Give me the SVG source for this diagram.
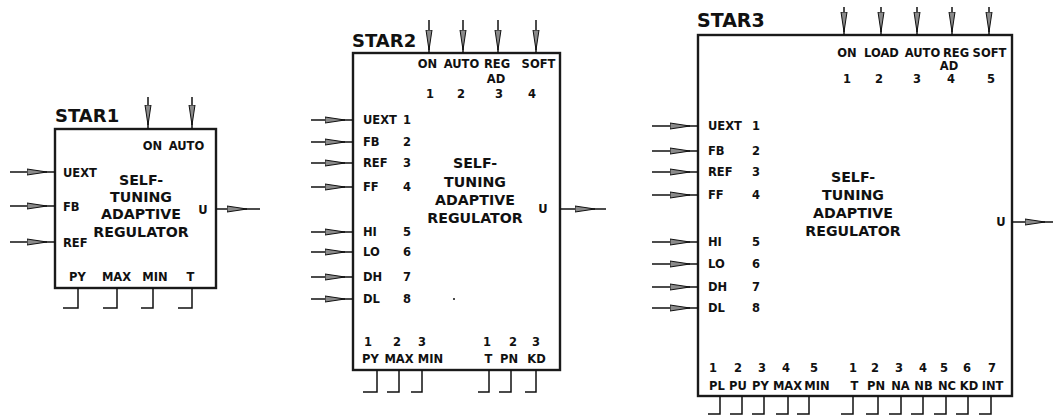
<svg xmlns="http://www.w3.org/2000/svg" width="1053" height="418" viewBox="0 0 1053 418">
<style>
text{font-family:"DejaVu Sans","Liberation Sans",sans-serif;font-weight:bold;fill:#111}
.t{font-size:18px}
.l{font-size:11.5px}
.c{font-size:14.2px;text-anchor:middle}
.m{text-anchor:middle}
.box{fill:#fff;stroke:#1a1a1a;stroke-width:2.4}
.w{fill:none;stroke:#111;stroke-width:1.5}
.a{fill:none;stroke:#111;stroke-width:1.5;marker-mid:url(#ah)}
</style>
<defs>
<marker id="ah" markerUnits="userSpaceOnUse" markerWidth="24" markerHeight="10" refX="20" refY="4" orient="auto" viewBox="0 0 24 8">
<path d="M0,1 L20,4 L0,7 Z" fill="#8a8a8a" stroke="#111" stroke-width="1"/>
</marker>
</defs>

<g id="star1">
<rect class="box" x="55" y="129" width="161" height="159"/>
<text class="t" x="55" y="122">STAR1</text>
<text class="l m" x="152.5" y="150">ON</text>
<text class="l m" x="186.5" y="150">AUTO</text>
<text class="l" x="63" y="176.5">UEXT</text>
<text class="l" x="63" y="210.5">FB</text>
<text class="l" x="63" y="246.5">REF</text>
<text class="l m" x="203" y="214">U</text>
<text class="c" x="141" y="185">SELF-</text>
<text class="c" x="141" y="202">TUNING</text>
<text class="c" x="141" y="219">ADAPTIVE</text>
<text class="c" x="141" y="237">REGULATOR</text>
<text class="l m" x="77.5" y="281">PY</text>
<text class="l m" x="116.5" y="281">MAX</text>
<text class="l m" x="155" y="281">MIN</text>
<text class="l m" x="190.5" y="281">T</text>
</g>

<g id="star2">
<rect class="box" x="353" y="53" width="207" height="317"/>
<text class="t" x="352" y="47">STAR2</text>
<text class="l m" x="427.5" y="68">ON</text>
<text class="l m" x="461.5" y="68">AUTO</text>
<text class="l m" x="497" y="68">REG</text>
<text class="l m" x="538.5" y="68">SOFT</text>
<text class="l m" x="496" y="83">AD</text>
<text class="l m" x="430" y="98">1</text>
<text class="l m" x="461" y="98">2</text>
<text class="l m" x="499" y="98">3</text>
<text class="l m" x="532" y="98">4</text>
<text class="l" x="363" y="124">UEXT</text>
<text class="l" x="363" y="146">FB</text>
<text class="l" x="363" y="167">REF</text>
<text class="l" x="363" y="191">FF</text>
<text class="l" x="363" y="236">HI</text>
<text class="l" x="363" y="256">LO</text>
<text class="l" x="363" y="281">DH</text>
<text class="l" x="363" y="303">DL</text>
<text class="l m" x="407" y="124">1</text>
<text class="l m" x="407" y="146">2</text>
<text class="l m" x="407" y="167">3</text>
<text class="l m" x="407" y="191">4</text>
<text class="l m" x="407" y="236">5</text>
<text class="l m" x="407" y="256">6</text>
<text class="l m" x="407" y="281">7</text>
<text class="l m" x="407" y="303">8</text>
<text class="l m" x="543" y="213">U</text>
<text class="c" x="475" y="168">SELF-</text>
<text class="c" x="475" y="187">TUNING</text>
<text class="c" x="475" y="205">ADAPTIVE</text>
<text class="c" x="475" y="223">REGULATOR</text>
<circle cx="454" cy="299" r="1" fill="#111"/>
<text class="l m" x="368" y="346">1</text>
<text class="l m" x="397" y="346">2</text>
<text class="l m" x="422" y="346">3</text>
<text class="l m" x="487" y="346">1</text>
<text class="l m" x="513" y="346">2</text>
<text class="l m" x="536" y="346">3</text>
<text class="l m" x="370.5" y="363">PY</text>
<text class="l m" x="399" y="363">MAX</text>
<text class="l m" x="430.5" y="363">MIN</text>
<text class="l m" x="488.5" y="363">T</text>
<text class="l m" x="509" y="363">PN</text>
<text class="l m" x="536.5" y="363">KD</text>
</g>

<g id="star3">
<rect class="box" x="698" y="35" width="314" height="361"/>
<text class="t" x="697" y="27" style="font-size:19px">STAR3</text>
<text class="l m" x="847" y="57">ON</text>
<text class="l m" x="881.5" y="57">LOAD</text>
<text class="l m" x="922.5" y="57">AUTO</text>
<text class="l m" x="956" y="57">REG</text>
<text class="l m" x="989.5" y="57">SOFT</text>
<text class="l m" x="949" y="70">AD</text>
<text class="l m" x="847" y="83">1</text>
<text class="l m" x="879" y="83">2</text>
<text class="l m" x="917" y="83">3</text>
<text class="l m" x="951" y="83">4</text>
<text class="l m" x="991" y="83">5</text>
<text class="l" x="708" y="130">UEXT</text>
<text class="l" x="708" y="155">FB</text>
<text class="l" x="708" y="176">REF</text>
<text class="l" x="708" y="199">FF</text>
<text class="l" x="708" y="246">HI</text>
<text class="l" x="708" y="268">LO</text>
<text class="l" x="708" y="291">DH</text>
<text class="l" x="708" y="312">DL</text>
<text class="l m" x="756" y="130">1</text>
<text class="l m" x="756" y="155">2</text>
<text class="l m" x="756" y="176">3</text>
<text class="l m" x="756" y="199">4</text>
<text class="l m" x="756" y="246">5</text>
<text class="l m" x="756" y="268">6</text>
<text class="l m" x="756" y="291">7</text>
<text class="l m" x="756" y="312">8</text>
<text class="l m" x="1001" y="226">U</text>
<text class="c" x="853" y="182">SELF-</text>
<text class="c" x="853" y="200">TUNING</text>
<text class="c" x="853" y="218">ADAPTIVE</text>
<text class="c" x="853" y="236">REGULATOR</text>
<text class="l m" x="713" y="372">1</text>
<text class="l m" x="738" y="372">2</text>
<text class="l m" x="762" y="372">3</text>
<text class="l m" x="786" y="372">4</text>
<text class="l m" x="814" y="372">5</text>
<text class="l m" x="853" y="372">1</text>
<text class="l m" x="875" y="372">2</text>
<text class="l m" x="899" y="372">3</text>
<text class="l m" x="923" y="372">4</text>
<text class="l m" x="944" y="372">5</text>
<text class="l m" x="967" y="372">6</text>
<text class="l m" x="992" y="372">7</text>
<text class="l m" x="717" y="390">PL</text>
<text class="l m" x="738" y="390">PU</text>
<text class="l m" x="760.5" y="390">PY</text>
<text class="l m" x="787.5" y="390">MAX</text>
<text class="l m" x="817" y="390">MIN</text>
<text class="l m" x="854.5" y="390">T</text>
<text class="l m" x="876" y="390">PN</text>
<text class="l m" x="900.5" y="390">NA</text>
<text class="l m" x="923.5" y="390">NB</text>
<text class="l m" x="947" y="390">NC</text>
<text class="l m" x="969" y="390">KD</text>
<text class="l m" x="992.5" y="390">INT</text>
</g>

<g id="connectors">
<path class="a" d="M148,97 L148,125 L148,129"/>
<path class="a" d="M192,97 L192,125 L192,129"/>
<path class="a" d="M10,172 L47,172 L55,172"/>
<path class="a" d="M10,206 L47,206 L55,206"/>
<path class="a" d="M10,242 L47,242 L55,242"/>
<path class="a" d="M216,209 L247,209 L260,209"/>
<path class="w" d="M78,288 V308 H63 M117,288 V308 H103 M153,288 V308 H141 M192,288 V308 H178"/>
<path class="a" d="M429,20 L429,50 L429,53"/>
<path class="a" d="M463,20 L463,50 L463,53"/>
<path class="a" d="M498,20 L498,50 L498,53"/>
<path class="a" d="M536,20 L536,50 L536,53"/>
<path class="a" d="M311,120 L345,120 L353,120"/>
<path class="a" d="M311,142 L345,142 L353,142"/>
<path class="a" d="M311,163 L345,163 L353,163"/>
<path class="a" d="M311,187 L345,187 L353,187"/>
<path class="a" d="M311,232 L345,232 L353,232"/>
<path class="a" d="M311,252 L345,252 L353,252"/>
<path class="a" d="M311,277 L345,277 L353,277"/>
<path class="a" d="M311,299 L345,299 L353,299"/>
<path class="a" d="M560,209 L595,209 L606,209"/>
<path class="w" d="M377,370 V392 H363 M399,370 V392 H387 M422,370 V392 H411 M489,370 V392 H478 M511,370 V392 H499 M536,370 V392 H525"/>
<path class="a" d="M844,7 L844,32 L844,35"/>
<path class="a" d="M881,7 L881,32 L881,35"/>
<path class="a" d="M917,7 L917,32 L917,35"/>
<path class="a" d="M952,7 L952,32 L952,35"/>
<path class="a" d="M989,7 L989,32 L989,35"/>
<path class="a" d="M652,126 L690,126 L698,126"/>
<path class="a" d="M652,151 L690,151 L698,151"/>
<path class="a" d="M652,172 L690,172 L698,172"/>
<path class="a" d="M652,195 L690,195 L698,195"/>
<path class="a" d="M652,242 L690,242 L698,242"/>
<path class="a" d="M652,264 L690,264 L698,264"/>
<path class="a" d="M652,287 L690,287 L698,287"/>
<path class="a" d="M652,308 L690,308 L698,308"/>
<path class="a" d="M1012,222 L1045,222 L1053,222"/>
<path class="w" d="M720,396 V414 H708 M742,396 V414 H730 M764,396 V414 H752 M788,396 V414 H776 M809,396 V414 H797 M853,396 V414 H841 M878,396 V414 H866 M901,396 V414 H889 M923,396 V414 H911 M946,396 V414 H934 M968,396 V414 H956 M991,396 V414 H979"/>
</g>
</svg>
